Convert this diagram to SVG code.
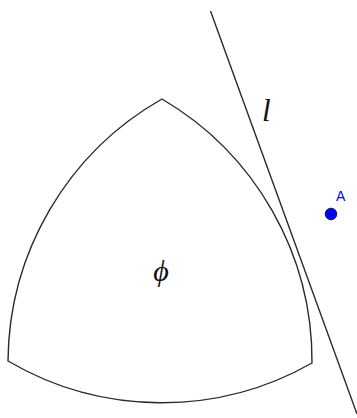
<svg xmlns="http://www.w3.org/2000/svg" width="357" height="418" viewBox="0 0 357 418">
<style>
.stroke{fill:none;stroke:#2a2a2a;stroke-width:1.4;stroke-linejoin:miter}
.lbl{font-family:"Liberation Serif","DejaVu Serif",serif;font-style:italic;fill:#111}
.pt{font-family:"Liberation Sans","DejaVu Sans",sans-serif;fill:#0000ff}
</style>
<rect width="357" height="418" fill="#ffffff"/>
<g id="phi">
<path class="stroke" d="M162 99 A304 304 0 0 0 8 361 A304 304 0 0 0 312 363 A304 304 0 0 0 162 99 Z"/>
<text class="lbl" x="161" y="281" font-size="30" text-anchor="middle">ϕ</text>
</g>
<g id="connectors">
<line id="l" class="stroke" x1="210.5" y1="11" x2="357" y2="414"/>
<text class="lbl" x="262" y="121" font-size="31">l</text>
</g>
<g id="A">
<circle cx="331" cy="214" r="5.8" fill="#0000ff" stroke="#1a1a4a" stroke-width="1"/>
<text class="pt" x="336" y="201" font-size="14">A</text>
</g>
</svg>
